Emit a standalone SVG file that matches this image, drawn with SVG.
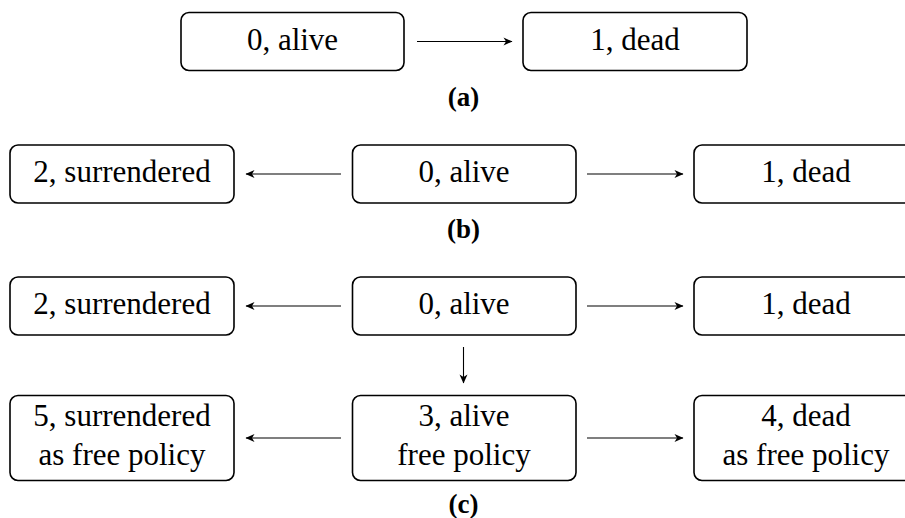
<svg xmlns="http://www.w3.org/2000/svg" width="905" height="518" viewBox="0 0 905 518">
<defs>
<style>
.box{fill:#fff;stroke:#000;stroke-width:1.6}
.t{font-family:"Liberation Serif","DejaVu Serif",serif;font-size:31px;text-anchor:middle;fill:#000}
.lab{font-family:"Liberation Serif","DejaVu Serif",serif;font-size:27px;font-weight:bold;text-anchor:middle;fill:#000}
.arr{stroke:#000;stroke-width:1.1;fill:none;marker-end:url(#ah)}
</style>
<marker id="ah" viewBox="-10 -5 11 10" refX="0" refY="0" markerWidth="11" markerHeight="10" markerUnits="userSpaceOnUse" orient="auto">
<path d="M0.5,0 L-8.5,-4 L-6,0 L-8.5,4 Z" fill="#000"/>
</marker>
</defs>
<rect width="905" height="518" fill="#fff"/>

<!-- (a) -->
<g id="a-alive"><rect class="box" x="181" y="12.5" width="223" height="58" rx="8"/><text class="t" x="292.5" y="49.5">0, alive</text></g>
<g id="a-dead"><rect class="box" x="523" y="12.5" width="224" height="58" rx="8"/><text class="t" x="635" y="49.5">1, dead</text></g>
<text class="lab" x="463.5" y="106">(a)</text>

<!-- (b) -->
<g id="b-surr"><rect class="box" x="10" y="145" width="224" height="58" rx="8"/><text class="t" x="122" y="182">2, surrendered</text></g>
<g id="b-alive"><rect class="box" x="352.5" y="145" width="223.5" height="58" rx="8"/><text class="t" x="464" y="182">0, alive</text></g>
<g id="b-dead"><rect class="box" x="694" y="145" width="224" height="58" rx="8"/><text class="t" x="806" y="182">1, dead</text></g>
<text class="lab" x="463.5" y="238">(b)</text>

<!-- (c) -->
<g id="c-surr"><rect class="box" x="10" y="277" width="224" height="58" rx="8"/><text class="t" x="122" y="314">2, surrendered</text></g>
<g id="c-alive"><rect class="box" x="352.5" y="277" width="223.5" height="58" rx="8"/><text class="t" x="464" y="314">0, alive</text></g>
<g id="c-dead"><rect class="box" x="694" y="277" width="224" height="58" rx="8"/><text class="t" x="806" y="314">1, dead</text></g>
<g id="c-surrfree"><rect class="box" x="10" y="395.5" width="224" height="85" rx="8"/><text class="t" x="122" y="425.5">5, surrendered</text><text class="t" x="122" y="464.5">as free policy</text></g>
<g id="c-alivefree"><rect class="box" x="352.5" y="395.5" width="223.5" height="85" rx="8"/><text class="t" x="464" y="425.5">3, alive</text><text class="t" x="464" y="464.5">free policy</text></g>
<g id="c-deadfree"><rect class="box" x="694" y="395.5" width="224" height="85" rx="8"/><text class="t" x="806" y="425.5">4, dead</text><text class="t" x="806" y="464.5">as free policy</text></g>
<text class="lab" x="463.5" y="513">(c)</text>

<g id="connectors">
<line class="arr" x1="417" y1="41.5" x2="512" y2="41.5"/>
<line class="arr" x1="341" y1="174" x2="246" y2="174"/>
<line class="arr" x1="587" y1="174" x2="683" y2="174"/>
<line class="arr" x1="341" y1="306" x2="246" y2="306"/>
<line class="arr" x1="587" y1="306" x2="683" y2="306"/>
<line class="arr" x1="463.5" y1="347" x2="463.5" y2="383"/>
<line class="arr" x1="341" y1="438" x2="246" y2="438"/>
<line class="arr" x1="587" y1="438" x2="683" y2="438"/>
</g>
</svg>
